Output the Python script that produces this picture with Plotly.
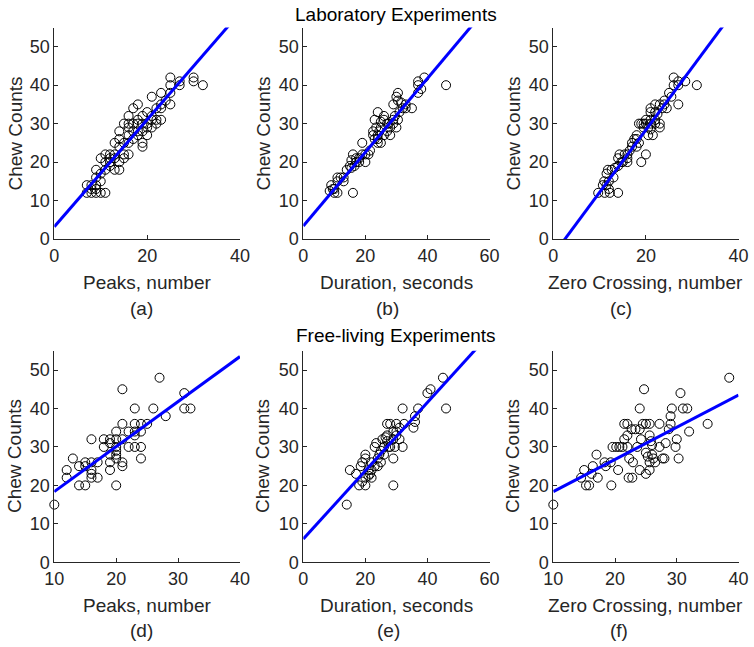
import plotly.graph_objects as go

# chew counts vs sensor features
# (a) lab, peaks
lab_peaks_x = [25, 27, 30, 30, 32, 27, 25, 25, 23, 21, 25, 23, 22, 18, 17, 23, 20, 21, 19, 18,
               16, 15, 16, 17, 18, 19, 22, 21, 22, 16, 18, 14, 20, 18, 16, 19, 19, 14, 13, 14,
               16, 15, 12, 11, 10, 12, 13, 14, 14, 13, 9, 11, 10, 9, 8, 9, 7, 8, 9, 11,
               7, 8, 10, 17, 15, 12, 11, 10, 9, 13, 15, 17, 20, 24, 23, 21, 20, 19, 16, 12]
lab_peaks_y = [42, 41, 42, 41, 40, 40, 40, 38, 38, 37, 35, 34, 34, 35, 34, 31, 33, 32, 32, 31,
               32, 30, 30, 30, 30, 30, 30, 29, 31, 29, 28, 28, 27, 27, 27, 24, 25, 26, 25, 24,
               22, 21, 22, 22, 21, 21, 21, 20, 18, 18, 18, 18, 17, 16, 14, 14, 14, 13, 12, 12,
               12, 12, 12, 26, 25, 20, 20, 15, 13, 22, 22, 28, 30, 36, 35, 31, 29, 28, 25, 19]

# (b) lab, duration
lab_dur_x = [46, 39, 37, 37, 38, 37, 30.5, 30, 30.5, 29, 35, 33, 33, 31.5, 24, 25, 26, 29.5, 30.5, 30,
             29, 27.5, 28, 23, 23.5, 24.5, 22.5, 28, 26, 24, 24, 25, 22.5, 19, 21.5, 21, 20, 19, 17, 18,
             20, 16, 15.5, 16.5, 15, 15.5, 14, 12, 11, 13, 11, 9, 9.5, 8.5, 10, 11, 16, 26, 27, 25,
             31, 32, 10, 13, 17, 18, 23, 24, 27, 29]
lab_dur_y = [40, 42, 41, 40, 39, 38, 38, 37, 36, 35, 34, 35, 34, 35.5, 33, 30.5, 32, 32, 31, 29,
             30, 30, 29, 31, 29, 28, 28, 27, 27, 26, 25, 25, 27, 25, 23, 22, 22, 22, 21, 20,
             20, 22, 20.5, 19, 19, 18.5, 18, 16, 16, 15, 15, 14, 13, 12.5, 12, 12, 12, 31, 30, 29,
             33, 34, 13, 16, 20, 21, 26, 27, 28, 31]

# (c) lab, zero crossing
lab_zc_x = [31, 26, 27, 28.5, 26, 27, 25, 25.5, 27, 24, 23, 22, 21, 21, 22.5, 19.5, 19, 18.5, 20, 21,
            22, 23, 23, 21, 20.5, 21.5, 20, 19, 18, 17.5, 17, 18, 18.5, 16, 15.4, 14.3, 14, 14.7, 16, 13.3,
            12.6, 11.8, 11.5, 11, 10.7, 9.7, 11.1, 12.2, 12, 14, 20, 21, 22, 19.5, 20.5, 17, 16, 15, 14, 13,
            12, 11.5, 22, 23.5, 24, 24.5, 16.5, 18]
lab_zc_y = [40, 42, 41, 41, 40, 40, 38, 37, 35, 36, 35, 35, 34, 33, 32.5, 30, 30, 30, 30, 30,
            30, 30, 29, 28.5, 27, 27, 22, 20, 27, 26, 25, 24, 25, 22, 22, 22, 21, 20, 20, 18.5,
            18, 18, 17, 15, 14, 12, 12, 12, 13, 12, 31, 31, 31, 29, 29, 24, 21, 20, 19, 16,
            15, 14, 33, 34, 35, 34, 23, 26]

# (d) free-living, peaks
free_peaks_x = [10, 12, 12, 13, 14, 14, 15, 15, 15, 16, 16, 16, 17, 16, 17, 18, 19, 18, 19, 19,
                19, 20, 20, 20, 20, 20, 20, 20, 21, 21, 21, 21, 21, 22, 22, 23, 23, 23, 23, 23,
                24, 24, 24, 24, 25, 26, 27, 28, 31, 31, 32, 16, 19]
free_peaks_y = [15, 24, 22, 27, 25, 20, 20, 26, 25, 26, 24, 23, 22, 32, 26, 32, 32, 30, 31, 28,
                24, 34, 32, 30, 29, 28, 27, 20, 45, 36, 25, 26, 32, 34, 30, 40, 36, 33, 30, 34,
                36, 34, 30, 27, 36, 40, 48, 38, 44, 40, 40, 22, 26]

# (e) free-living, duration
free_dur_x = [14, 15, 17, 18, 20, 18.5, 19, 20, 20, 20, 21, 21.5, 23, 23, 23.5, 22, 24, 24.5, 25, 25.5,
              26.5, 27, 27.5, 27, 28, 30, 29, 30, 31, 32, 29.5, 29, 29, 32, 32.5, 36, 35.5, 37, 36, 40,
              41, 45, 46, 22, 24, 26, 28, 30, 31, 26, 25, 21, 19, 22, 27, 29]
free_dur_y = [15, 24, 23, 20, 20, 25, 26, 27, 28, 22, 22.5, 23, 25, 30, 31, 26, 27, 28, 29, 32,
              32.5, 31.5, 30, 36, 36, 36, 34, 33, 32, 30, 30, 27, 20, 40, 36, 36.5, 35, 40, 38, 44,
              45, 48, 40, 24, 25, 28, 30, 34, 35, 30, 26, 24, 21, 22, 33, 32]

# (f) free-living, zero crossing
free_zc_x = [10, 14.5, 15, 15.3, 15.8, 16.4, 16.2, 17, 17.2, 18.5, 18.3, 19.3, 19.4, 19.6, 20.2, 20.7, 21.2, 22, 20.5, 21.5,
             22, 21.5, 22, 22.2, 22.8, 22.3, 22.9, 22.7, 23.3, 24, 23.6, 24.2, 24, 24, 24.7, 24.5, 25, 25.6, 25, 25,
             25.3, 25.6, 25.8, 26, 25.6, 25.6, 26, 26.2, 26.5, 27.2, 27.2, 27.7, 28, 28.2, 28.7, 29, 29, 29.2, 29.8, 30,
             30.3, 30.6, 31, 31.7, 32, 35, 38.5]
free_zc_y = [15, 22, 24, 20, 20, 25, 23, 28, 22, 25, 26, 26, 20, 30, 30, 30, 30, 30, 24, 36,
             36, 32, 33, 22, 22, 27, 26, 34.6, 34.6, 34.6, 30, 32, 40, 24, 45, 36, 36, 36, 23, 28.5,
             27.5, 33, 31.5, 30.5, 24, 26, 28, 27, 26, 36, 30, 27, 27, 31, 34.6, 38, 36, 40, 30, 32,
             27, 44, 40, 40, 34, 36, 48]

# least-squares lines (slope, intercept)
fit_slopes = [1.392, 0.959, 1.624, 1.17, 0.888, 0.837]
fit_intercepts = [3.2, 3.4, -4.1, 6.7, 6.06, 10.0]

x_labels = ['Peaks, number', 'Duration, seconds', 'Zero Crossing, number'] * 2
letters = ['(a)', '(b)', '(c)', '(d)', '(e)', '(f)']
x_ranges = [[0, 40], [0, 60], [0, 40], [10, 40], [0, 60], [10, 40]]
x_ticks = [[0, 20, 40], [0, 20, 40, 60], [0, 20, 40],
           [10, 20, 30, 40], [0, 20, 40, 60], [10, 20, 30, 40]]
y_ticks = [0, 10, 20, 30, 40, 50]
row_titles = ['Laboratory Experiments', 'Free-living Experiments']

xs = [lab_peaks_x, lab_dur_x, lab_zc_x, free_peaks_x, free_dur_x, free_zc_x]
ys = [lab_peaks_y, lab_dur_y, lab_zc_y, free_peaks_y, free_dur_y, free_zc_y]

W, H = 754, 647
col_px = [(54.3, 240.0), (303.3, 489.5), (553.3, 738.5)]
row_px = [(27.5, 239.0), (350.8, 562.3)]  # top, bottom (y=55, y=0)
letter_px = [141, 387, 621, 141, 388, 619]
ylab_px = [14.5, 262.5, 512.5]

FONT = 'Liberation Sans, Arial, sans-serif'
GRAY = '#262626'

fig = go.Figure()
annotations = []


def note(text, x, y, size=19, color=GRAY, angle=0):
    return dict(text=text, x=x / W, y=1 - y / H, xref='paper', yref='paper',
                xanchor='center', yanchor='middle', showarrow=False, textangle=angle,
                font=dict(family=FONT, size=size, color=color))


for i in range(6):
    r, c = divmod(i, 3)
    n = i + 1
    xa = 'x' if n == 1 else f'x{n}'
    ya = 'y' if n == 1 else f'y{n}'

    fig.add_trace(go.Scatter(x=xs[i], y=ys[i], mode='markers', xaxis=xa, yaxis=ya,
                             marker=dict(symbol='circle-open', size=9, color='black',
                                         line=dict(width=1, color='black')),
                             cliponaxis=False, showlegend=False))
    lx = x_ranges[i]
    ly = [fit_slopes[i] * v + fit_intercepts[i] for v in lx]
    fig.add_trace(go.Scatter(x=lx, y=ly, mode='lines', xaxis=xa, yaxis=ya,
                             line=dict(color='#0000ff', width=3), showlegend=False))

    axis_common = dict(showline=True, linecolor=GRAY, linewidth=1, ticks='inside', ticklen=4,
                       tickcolor=GRAY, showgrid=False, zeroline=False, automargin=False,
                       tickfont=dict(family=FONT, size=18, color=GRAY))
    x0, x1 = col_px[c]
    top, bot = row_px[r]
    fig.update_layout({
        ('xaxis' if n == 1 else f'xaxis{n}'): dict(
            axis_common, domain=[x0 / W, x1 / W], range=lx, tickvals=x_ticks[i],
            anchor=ya),
        ('yaxis' if n == 1 else f'yaxis{n}'): dict(
            axis_common, domain=[1 - bot / H, 1 - top / H], range=[0, 55], tickvals=y_ticks,
            anchor=xa),
    })

    annotations.append(note(x_labels[i], (x0 + x1) / 2, 283 if r == 0 else 605))
    annotations.append(note(letters[i], letter_px[i], 308 if r == 0 else 630))
    annotations.append(note('Chew Counts', ylab_px[c], 134 if r == 0 else 456.5, angle=-90))

annotations.append(note(row_titles[0], 396, 14.5, color='black'))
annotations.append(note(row_titles[1], 396, 335.5, color='black'))

fig.update_layout(width=W, height=H, margin=dict(l=0, r=0, t=0, b=0),
                  plot_bgcolor='white', paper_bgcolor='white', annotations=annotations)

# drop the default 8px body margin so the figure sits at the page corner
fig.write_html("out.html", config={'displayModeBar': False},
               post_script="document.body.style.margin='0';")
